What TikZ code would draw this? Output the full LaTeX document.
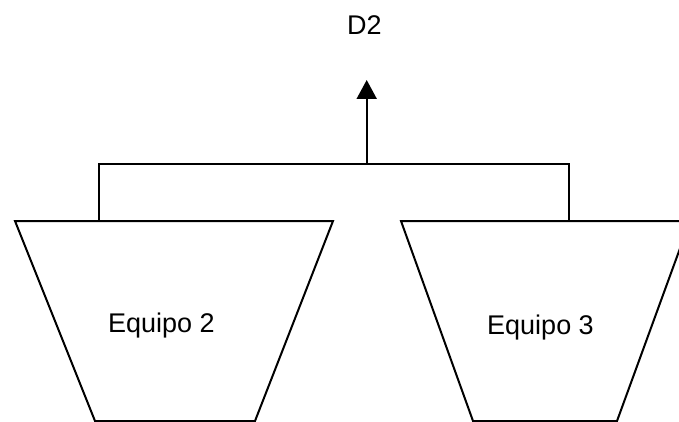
\documentclass[tikz,border=0pt]{standalone}
\usepackage{fontspec}
\setmainfont{Liberation Sans}
\usetikzlibrary{arrows.meta}
\begin{document}
\begin{tikzpicture}[x=1pt,y=-1pt,
  shapeline/.style={draw=black,line width=2pt,line join=miter},
  wire/.style={draw=black,line width=2pt},
  lbl/.style={font=\fontsize{27}{32}\selectfont,inner sep=0pt,anchor=center}]
\useasboundingbox (0,0) rectangle (679,422);
\clip (0,0) rectangle (679,422);
% trapezoids
\draw[shapeline] (15,221) -- (333,221) -- (255,421) -- (95,421) -- cycle;
\draw[shapeline] (401,221) -- (690,221) -- (617,421) -- (473,421) -- cycle;
% labels
\node[lbl] (e2) at (161.5,326) {Equipo 2};
\node[lbl] (e3) at (540.5,328) {Equipo 3};
\node[lbl] (d2) at (364.5,25) {D2};
% connectors
\coordinate (t2) at (99.3,221);
\coordinate (t3) at (569.3,221);
\coordinate (j2) at (99.3,164.5);
\coordinate (j3) at (569.3,164.5);
\coordinate (jm) at (366.7,164.5);
\coordinate (tip) at (366.7,80);
\draw[wire] (t2) -- (j2) -- (j3) -- (t3);
\draw[wire,-{Triangle[width=20pt,length=19pt]}] (jm) -- (tip);
\end{tikzpicture}
\end{document}
